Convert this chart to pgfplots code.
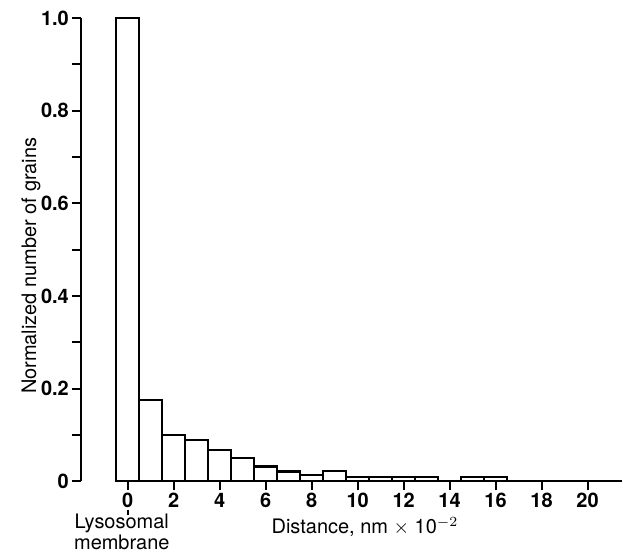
\documentclass[border=0pt]{standalone}
\usepackage{fontspec}
\setmainfont{TeX Gyre Heros}
\usepackage{pgfplots}
\pgfplotsset{compat=1.18}

\begin{document}
\begin{tikzpicture}
\begin{axis}[
    scale only axis,
    width=271pt, height=232pt,
    xmin=-2.04, xmax=21.5,
    ymin=0, ymax=1,
    axis x line*=bottom, axis y line*=left,
    x axis line style={draw=none},
    y axis line style={line width=1pt},
    clip=false,
    xtick={0,2,...,20},
    ytick={0,0.2,0.4,0.6,0.8,1},
    yticklabels={0,0.2,0.4,0.6,0.8,1.0},
    minor ytick={0.1,0.3,0.5,0.7,0.9},
    tick align=outside,
    major tick length=4.5pt, minor tick length=4.5pt,
    every tick/.style={black, line width=1pt},
    tick label style={font=\fontsize{10}{11}\selectfont\bfseries},
    xticklabel style={yshift=2pt},
    yticklabel style={xshift=2pt},
    /pgf/number format/assume math mode=true,
    ylabel={Normalized number of grains},
    ylabel style={at={(axis description cs:-0.092,0.465)}, anchor=center, font=\fontsize{10}{11}\selectfont},
    xlabel={Distance, nm $\times$ 10$^{-2}$},
    xlabel style={at={(axis description cs:0.525,-0.098)}, anchor=center, font=\fontsize{10}{11}\selectfont},
]
% bars centred on whole units of distance
\addplot[ybar, bar width=1, fill=white, draw=black, line width=1.1pt] coordinates {
    (0,1.0) (1,0.175) (2,0.100) (3,0.089) (4,0.067) (5,0.050)
    (6,0.032) (7,0.021) (8,0.013) (9,0.022) (10,0.010) (11,0.010)
    (12,0.010) (13,0.010) (15,0.010) (16,0.010)
};
\draw[line width=1pt] (axis cs:-0.5,0) -- (axis cs:21.5,0);
\draw[line width=0.8pt] ([yshift=-14.5pt]axis cs:0,0) -- ([yshift=-16.8pt]axis cs:0,0);
\node[align=center, font=\fontsize{10}{8.7}\selectfont, yshift=-25.5pt] at (axis cs:-0.26,0) {Lysosomal\\membrane};
\end{axis}
\path (current axis.south west) ++(-40.5pt,-36.5pt);
\path (current axis.north east) ++(0,9pt);
\end{tikzpicture}
\end{document}
